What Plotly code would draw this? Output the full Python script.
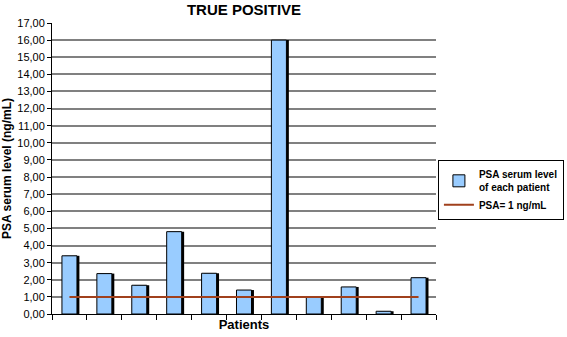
import plotly.graph_objects as go

patients = [f"P{i}" for i in range(1, 12)]
psa_values = [3.40, 2.36, 1.68, 4.81, 2.38, 1.40, 16.00, 1.00, 1.58, 0.16, 2.12]
threshold = [1.0] * len(patients)
y_ticks = [i for i in range(0, 18)]
y_tick_labels = [f"{v:.2f}".replace(".", ",") for v in y_ticks]

font = "Liberation Sans, Arial, sans-serif"
bw = 0.43

fig = go.Figure()
# shadow
fig.add_trace(go.Bar(x=patients, y=psa_values, width=bw, offset=-bw / 2 + 0.07,
                     marker=dict(color="black", line=dict(width=0)),
                     showlegend=False, hoverinfo="skip"))
fig.add_trace(go.Bar(x=patients, y=psa_values, width=bw, offset=-bw / 2,
                     name="<b>PSA serum level<br>of each patient</b>",
                     marker=dict(color="#99CCFF", line=dict(color="black", width=1))))
fig.add_trace(go.Scatter(x=patients, y=threshold, mode="lines", name="<b>PSA= 1 ng/mL</b>",
                         line=dict(color="#A0401C", width=2)))

fig.update_layout(
    width=567, height=337,
    margin=dict(l=52, r=131, t=23, b=23, autoexpand=False),
    paper_bgcolor="white", plot_bgcolor="white",
    barmode="overlay",
    title=dict(text="<b>TRUE POSITIVE</b>", x=(52 + 436) / 2 / 567, xanchor="center",
               y=1 - 10 / 337, yanchor="middle",
               font=dict(family=font, size=15, color="black")),
    font=dict(family=font, size=11, color="black"),
    showlegend=True,
    legend=dict(x=1.005, xanchor="left", y=0.425, yanchor="middle",
                bordercolor="black", borderwidth=1, bgcolor="white",
                font=dict(family=font, size=10, color="black"),
                tracegroupgap=20, itemwidth=30),
    xaxis=dict(showticklabels=False, ticks="outside", ticklen=5, tickcolor="black",
               tickson="boundaries", showgrid=False, showline=True, linecolor="black",
               linewidth=1, zeroline=False, automargin=False,
               title=dict(text="<b>Patients</b>", standoff=5,
                          font=dict(family=font, size=13, color="black"))),
    yaxis=dict(range=[0, 17], tickvals=y_ticks, ticktext=y_tick_labels,
               ticks="outside", ticklen=4, tickcolor="black",
               showline=True, linecolor="black", linewidth=1,
               showgrid=True, gridcolor="#808080", gridwidth=1.5, zeroline=False,
               automargin=False,
               tickfont=dict(family=font, size=11, color="black"),
               title=dict(text="<b>PSA serum level (ng/mL)</b>", standoff=3,
                          font=dict(family=font, size=12, color="black"))),
)

fig.write_html("out.html", config={"displayModeBar": False},
               post_script="document.body.style.margin='0';")
